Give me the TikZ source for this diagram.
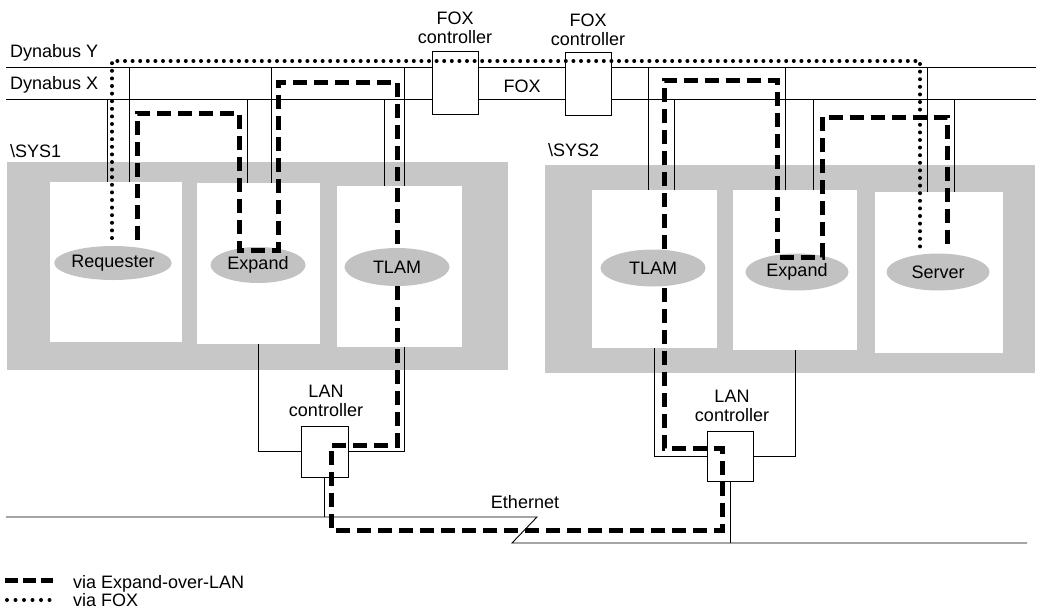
\documentclass[tikz,border=0pt]{standalone}
\usepackage{fontspec}
\setmainfont{Liberation Sans}
\usetikzlibrary{shapes.geometric,calc}
\begin{document}
\begin{tikzpicture}[x=1pt,y=-1pt,
  thinl/.style={line width=0.9pt},
  grayreg/.style={fill=black!22,draw=none},
  cpu/.style={fill=white,draw=none,inner sep=0},
  ctrl/.style={draw,line width=0.9pt,fill=white,inner sep=0},
  proc/.style={ellipse,fill=black!24,draw=none,inner sep=0,font=\fontsize{18}{20}\selectfont},
  lbl/.style={font=\fontsize{18}{19}\selectfont,inner sep=0},
  expandpath/.style={line width=5pt,dash pattern=on 14pt off 7pt},
  foxpath/.style={line width=4pt,line cap=round,dash pattern=on 0pt off 7.6pt}]
\useasboundingbox (0,0) rectangle (1039,611);

% system regions
\path[grayreg] (7,162) rectangle (508,370);
\path[grayreg] (545,165) rectangle (1035,373);
\node[cpu,minimum width=132pt,minimum height=160pt] (w1) at (116,262) {};
\node[cpu,minimum width=123pt,minimum height=161pt] (w2) at (258.5,263.5) {};
\node[cpu,minimum width=125pt,minimum height=161pt] (w3) at (399.5,266.5) {};
\node[cpu,minimum width=125pt,minimum height=158pt] (v1) at (654.5,269) {};
\node[cpu,minimum width=124pt,minimum height=160pt] (v2) at (795,270) {};
\node[cpu,minimum width=128pt,minimum height=161pt] (v3) at (939,272.5) {};

% FOX controllers
\node[ctrl,minimum width=46pt,minimum height=63pt] (fox1) at (455,83) {};
\node[ctrl,minimum width=46pt,minimum height=63pt] (fox2) at (588,84) {};

% Dynabus lines
\coordinate (YL) at (6,67);  \coordinate (YR) at (1036,67);
\coordinate (XL) at (6,99);  \coordinate (XR) at (1036,99);
\draw[thinl] (YL) -- (YL -| fox1.west);
\draw[thinl] (YL -| fox1.east) -- (YL -| fox2.west);
\draw[thinl] (YL -| fox2.east) -- (YR);
\draw[thinl] (XL) -- (XL -| fox1.west);
\draw[thinl] (XL -| fox1.east) -- (XL -| fox2.west);
\draw[thinl] (XL -| fox2.east) -- (XR);

% bus drops to processors
\foreach \nm/\x/\bus/\bx in {rqx/107/99/w1, rqy/129/67/w1, e1x/247/99/w2, e1y/271/67/w2,
  t1x/384/99/w3, t1y/404/67/w3, t2y/648/67/v1, t2x/674/99/v1, e2y/785/67/v2,
  e2x/813/99/v2, svy/927/67/v3, svx/954/99/v3}
  {\coordinate (\nm) at (\x,\bus); \draw[thinl] (\nm) -- (\nm |- \bx.north);}

% LAN controllers
\node[ctrl,minimum width=47pt,minimum height=51pt] (lan1) at (324.5,451.5) {};
\node[ctrl,minimum width=46pt,minimum height=50pt] (lan2) at (730,456) {};
\draw[thinl] (w2.south) |- (lan1.west);
\draw[thinl] (t1y |- w3.south) |- (lan1.east);
\draw[thinl] (v1.south) |- (lan2.west);
\draw[thinl] (v2.south) |- (lan2.east);

% Ethernet
\coordinate (ethA) at (6,517);   \coordinate (ethB) at (537,517);
\coordinate (ethC) at (512,543); \coordinate (ethD) at (1027,543);
\draw[thinl] (ethA) -- (ethB) -- (ethC) -- (ethD);
\draw[thinl] (lan1.south) -- (lan1.south |- ethA);
\draw[thinl] (lan2.south) -- (lan2.south |- ethD);

% processes
\node[proc,minimum width=98pt,minimum height=34pt] (req) at (113,263) {Requester};
\node[proc,minimum width=95pt,minimum height=36pt] (exp1) at (258,265) {Expand};
\node[proc,minimum width=105pt,minimum height=38pt] (tlam1) at (397,267) {TLAM};
\node[proc,minimum width=105pt,minimum height=37pt] (tlam2) at (653,268) {TLAM};
\node[proc,minimum width=103pt,minimum height=37pt] (exp2) at (797,272) {Expand};
\node[proc,minimum width=103pt,minimum height=37pt] (srv) at (938,272) {Server};

% Expand-over-LAN path
\coordinate (pa) at (137,240);
\coordinate (pb) at (239,113);
\coordinate (pc) at (278,250);
\coordinate (pd) at (397,82);
\draw[expandpath] (pa) |- (pb) |- (pc) |- (pd) -- (tlam1.north);
\coordinate (pe) at (397,445);
\coordinate (pf) at (331,530);
\coordinate (pg) at (722,448);
\coordinate (ph) at (664,448);
\draw[expandpath] (tlam1.south) -- (pe) -| (pf) -| (pg) -- (ph) -- (ph |- tlam2.south);
\coordinate (pi) at (777,80);
\coordinate (pj) at (822,257);
\coordinate (pk) at (947,117);
\coordinate (pl) at (947,248);
\draw[expandpath] (ph |- tlam2.north) |- (pi) |- (pj) |- (pk) -- (pl);

% FOX path
\coordinate (fa) at (112,238);
\coordinate (fb) at (920,61);
\coordinate (fc) at (920,247);
\draw[foxpath] (fa) |- (fb) -- (fc);

% labels
\node[lbl,anchor=base west] (ldy) at (10,57) {Dynabus Y};
\node[lbl,anchor=base west] (ldx) at (10,89) {Dynabus X};
\node[lbl,anchor=base west] (ls1) at (10,157) {\textbackslash SYS1};
\node[lbl,anchor=base west] (ls2) at (548,156) {\textbackslash SYS2};
\node[lbl,align=center,anchor=south] (lf1) at (fox1.north |- 0,44) {FOX\\controller};
\node[lbl,align=center,anchor=south] (lf2) at (fox2.north |- 0,46) {FOX\\controller};
\node[lbl] (lfox) at (522,86) {FOX};
\node[lbl,align=center,anchor=south] (ll1) at (326,417) {LAN\\controller};
\node[lbl,align=center,anchor=south] (ll2) at (732,422) {LAN\\controller};
\node[lbl] (leth) at (525,502) {Ethernet};

% legend
\coordinate (ga) at (5,580); \coordinate (gb) at (53,580);
\draw[line width=5pt,dash pattern=on 13pt off 5pt] (ga) -- (gb);
\coordinate (gc) at (7,600); \coordinate (gd) at (53,600);
\draw[line width=4pt,line cap=round,dash pattern=on 0pt off 8.5pt] (gc) -- (gd);
\node[lbl,anchor=base west] (lg1) at (73,588) {via Expand-over-LAN};
\node[lbl,anchor=base west] (lg2) at (73,606) {via FOX};
\end{tikzpicture}
\end{document}
